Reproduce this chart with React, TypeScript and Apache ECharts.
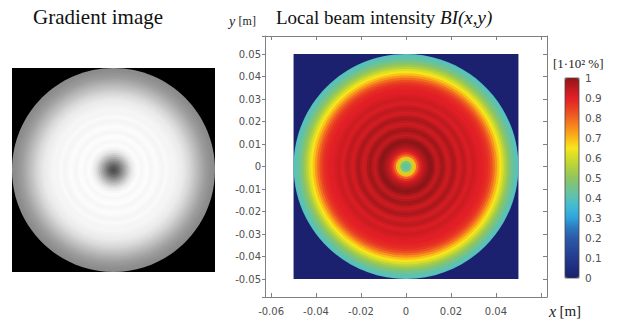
import React, { useEffect, useRef } from 'react';
import * as echarts from 'echarts';

// radial step and half-width of the square field (m)
const CELL = 0.001;
const HALF = 0.05;

// Local beam intensity BI read along the radius, r = k * 0.001 m, k = 0..50
const beamProfile = [
  0.41, 0.42, 0.47, 0.58, 0.7, 0.8, 0.87, 0.92, 0.95, 0.97,
  0.99, 1.0, 0.99, 0.96, 0.94, 0.96, 0.98, 0.97, 0.94, 0.93,
  0.95, 0.97, 0.96, 0.93, 0.92, 0.94, 0.95, 0.93, 0.91, 0.92,
  0.93, 0.92, 0.91, 0.9, 0.9, 0.89, 0.88, 0.86, 0.83, 0.79,
  0.74, 0.69, 0.65, 0.61, 0.56, 0.52, 0.48, 0.45, 0.42, 0.4,
  0.39,
];

// Gradient image grey level read along the radius, r = k * 0.001 m, k = 0..50
const gradientProfile = [
  0.31, 0.33, 0.38, 0.45, 0.53, 0.61, 0.69, 0.77, 0.84, 0.9,
  0.94, 0.97, 0.99, 0.98, 0.97, 0.98, 0.99, 0.99, 0.97, 0.97,
  0.98, 0.99, 0.98, 0.97, 0.96, 0.97, 0.98, 0.97, 0.96, 0.96,
  0.96, 0.95, 0.94, 0.93, 0.92, 0.9, 0.88, 0.86, 0.83, 0.8,
  0.77, 0.74, 0.71, 0.68, 0.65, 0.62, 0.6, 0.58, 0.56, 0.55,
  0.54,
];

const colorbarTicks = [0, 0.1, 0.2, 0.3, 0.4, 0.5, 0.6, 0.7, 0.8, 0.9, 1];

const jet = [
  '#1b216e', '#1f2c7e', '#243a8e', '#284a9c', '#2b5aa8', '#2c78c0', '#2ea3dc',
  '#3cb8d8', '#5ac2b6', '#74c38a', '#8fc560', '#b0cf40', '#d2dc2a', '#f6e51c',
  '#fbb817', '#f78d1c', '#f16523', '#e93e22', '#e21f26', '#bd1a1f', '#8d1517',
];

// [outer radius, isSquare, value]; square background first, then discs from outside in
function buildRings(profile: number[]) {
  const out: number[][] = [[HALF, 1, 0]];
  for (let k = profile.length - 1; k >= 0; k--) {
    out.push([Math.min((k + 0.5) * CELL, HALF), 0, profile[k]]);
  }
  return out;
}

const renderRing = (_params: any, api: any) => {
  const r = api.value(0);
  const fill = api.visual('color');
  if (api.value(1) === 1) {
    const a = api.coord([-r, r]);
    const b = api.coord([r, -r]);
    return {
      type: 'rect',
      shape: { x: a[0], y: a[1], width: b[0] - a[0], height: b[1] - a[1] },
      style: { fill },
    };
  }
  const c = api.coord([0, 0]);
  const s = api.size([r, r]);
  return {
    type: 'ellipse',
    shape: { cx: c[0], cy: c[1], rx: s[0], ry: s[1] },
    style: { fill },
  };
};

const isMultiple = (v: number, step: number) => Math.abs(v / step - Math.round(v / step)) < 1e-6;
const fmt = (v: number) => (Math.abs(v) < 1e-9 ? '0' : v.toFixed(2));

const axisColor = '#808080';
const labelStyle = { color: '#505050', fontSize: 10, fontFamily: 'DejaVu Sans' };
const serif = '"Liberation Serif", "Times New Roman", serif';

export default function App() {
  const ref = useRef<HTMLDivElement>(null);
  useEffect(() => {
    if (!ref.current) return;
    const chart = echarts.init(ref.current, undefined, { renderer: 'svg' });
    const grayData = buildRings(gradientProfile);
    const beamData = buildRings(beamProfile);
    const frameAxis = {
      axisLine: { show: true, onZero: false, lineStyle: { color: axisColor } },
      splitLine: { show: false },
    };
    const option: any = {
      animation: false,
      backgroundColor: '#fff',
      grid: [
        { left: 12, top: 68, width: 203, height: 204 },
        { left: 265, top: 36, width: 282, height: 261 },
        { left: 565, top: 78, width: 14, height: 200 },
      ],
      xAxis: [
        { gridIndex: 0, type: 'value', min: -HALF, max: HALF, show: false },
        {
          ...frameAxis,
          gridIndex: 1, type: 'value', min: -0.0627, max: 0.0627, position: 'bottom',
          splitNumber: 6, minInterval: 0.02, maxInterval: 0.02,
          axisTick: { show: true, inside: true, length: 4, lineStyle: { color: axisColor } },
          axisLabel: {
            ...labelStyle, margin: 9,
            formatter: (v: number) => (isMultiple(v, 0.02) && v < 0.055 ? fmt(v) : ''),
          },
        },
        {
          ...frameAxis,
          gridIndex: 1, type: 'value', min: -0.0627, max: 0.0627, position: 'top',
          splitNumber: 6, minInterval: 0.02, maxInterval: 0.02,
          axisTick: { show: true, inside: true, length: 4, lineStyle: { color: axisColor } },
          axisLabel: { show: false },
        },
        { gridIndex: 2, type: 'value', min: 0, max: 1, show: false },
      ],
      yAxis: [
        { gridIndex: 0, type: 'value', min: -HALF, max: HALF, show: false },
        {
          ...frameAxis,
          gridIndex: 1, type: 'value', min: -0.058, max: 0.058, position: 'left',
          splitNumber: 11, minInterval: 0.01, maxInterval: 0.01,
          axisTick: { show: true, inside: false, length: 3, lineStyle: { color: axisColor } },
          axisLabel: {
            ...labelStyle, margin: 4,
            formatter: (v: number) => (isMultiple(v, 0.01) ? fmt(v) : ''),
          },
        },
        {
          ...frameAxis,
          gridIndex: 1, type: 'value', min: -0.058, max: 0.058, position: 'right',
          splitNumber: 11, minInterval: 0.01, maxInterval: 0.01,
          axisTick: { show: true, inside: true, length: 4, lineStyle: { color: axisColor } },
          axisLabel: { show: false },
        },
        {
          gridIndex: 2, type: 'value', min: 0, max: 1, interval: 0.1, position: 'right',
          axisLine: { show: false },
          axisTick: { show: false },
          splitLine: { show: false },
          axisLabel: {
            ...labelStyle, margin: 6, fontSize: 10.5,
            formatter: (v: number) => {
              const t = colorbarTicks.find((c) => Math.abs(c - v) < 1e-6);
              if (t === undefined) return '';
              return t === 0 || t === 1 ? String(t) : t.toFixed(1);
            },
          },
        },
      ],
      visualMap: [
        {
          type: 'continuous', show: false, min: 0, max: 1, dimension: 2, seriesIndex: 0,
          inRange: { color: ['#000000', '#ffffff'] },
        },
        {
          type: 'continuous', show: true, min: 0, max: 1, dimension: 2, seriesIndex: 1,
          left: 565, top: 78, itemWidth: 14, itemHeight: 200, padding: 0,
          calculable: false, realtime: false, hoverLink: false,
          inRange: { color: jet },
          borderWidth: 0,
        },
      ],
      series: [
        {
          type: 'custom', xAxisIndex: 0, yAxisIndex: 0, renderItem: renderRing,
          data: grayData, encode: { x: 0, y: 1 }, progressive: 0, silent: true,
        },
        {
          type: 'custom', xAxisIndex: 1, yAxisIndex: 1, renderItem: renderRing,
          data: beamData, encode: { x: 0, y: 1 }, progressive: 0, silent: true,
        },
      ],
      graphic: [
        {
          type: 'rect', z: 10, silent: true,
          shape: { x: 565, y: 78, width: 14, height: 200 },
          style: { fill: 'none', stroke: '#444', lineWidth: 0.8 },
        },
        {
          type: 'text', x: 33, y: 17,
          style: { text: 'Gradient image', font: `21px ${serif}`, fill: '#111', verticalAlign: 'middle' },
        },
        {
          type: 'text', x: 276, y: 17,
          style: {
            text: '{n|Local beam intensity }{i|BI(x,y)}',
            verticalAlign: 'middle',
            rich: {
              n: { font: `19px ${serif}`, fill: '#111' },
              i: { font: `italic 19px ${serif}`, fill: '#111' },
            },
          },
        },
        {
          type: 'text', x: 229, y: 21,
          style: {
            text: '{i|y} {n|[m]}',
            verticalAlign: 'middle',
            rich: {
              n: { font: `12px ${serif}`, fill: '#222' },
              i: { font: `italic 14px ${serif}`, fill: '#222' },
            },
          },
        },
        {
          type: 'text', x: 549, y: 311,
          style: {
            text: '{i|x} {n|[m]}',
            verticalAlign: 'middle',
            rich: {
              n: { font: `15px ${serif}`, fill: '#222' },
              i: { font: `italic 16px ${serif}`, fill: '#222' },
            },
          },
        },
        {
          type: 'text', x: 553, y: 63,
          style: { text: '[1·10² %]', font: `13px ${serif}`, fill: '#222', verticalAlign: 'middle' },
        },
      ],
    };
    chart.setOption(option);
    return () => chart.dispose();
  }, []);
  return <div ref={ref} style={{ position: 'absolute', left: 0, top: 0, width: 629, height: 321 }} />;
}
